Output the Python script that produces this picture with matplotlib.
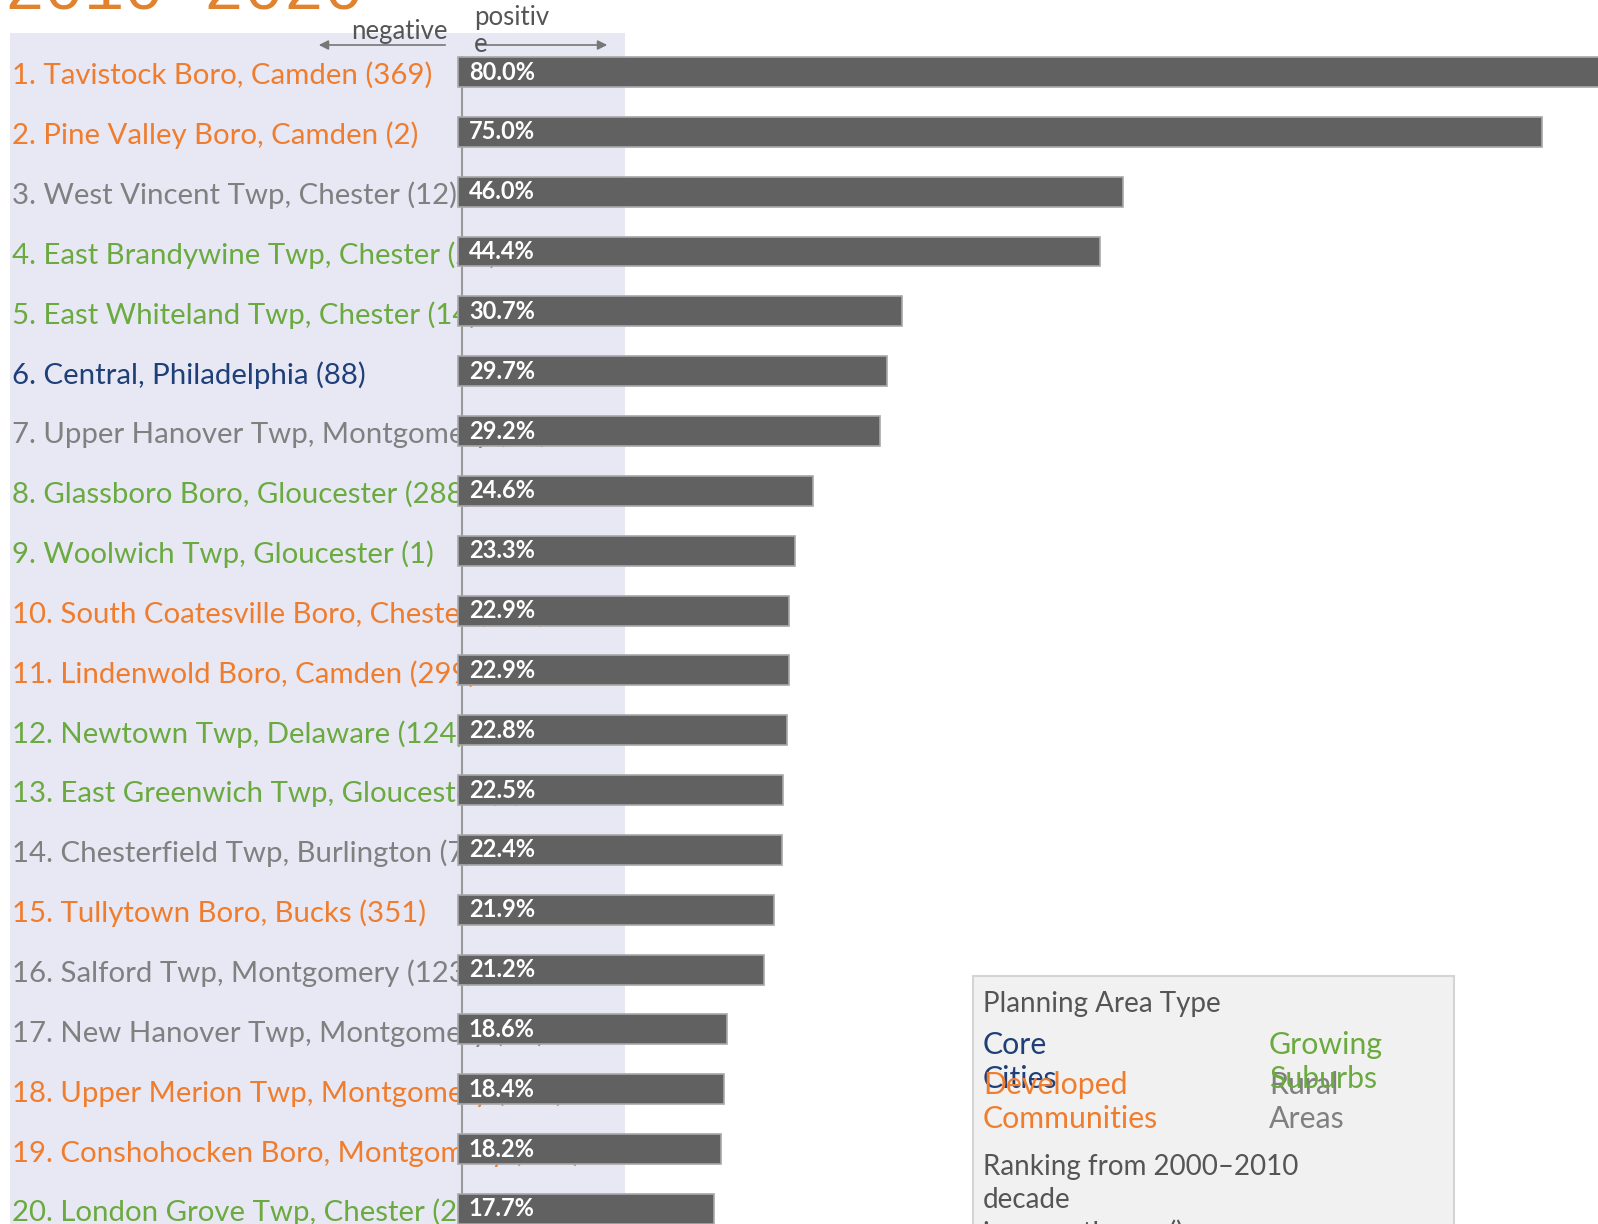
import matplotlib.pyplot as plt
from matplotlib.patches import Rectangle
from matplotlib.transforms import blended_transform_factory

plt.rcParams["font.family"] = ["Lato", "DejaVu Sans"]

# top 20 municipalities by growth, 2010-2020
labels = [
    "1. Tavistock Boro, Camden (369)",
    "2. Pine Valley Boro, Camden (2)",
    "3. West Vincent Twp, Chester (12)",
    "4. East Brandywine Twp, Chester (21)",
    "5. East Whiteland Twp, Chester (14)",
    "6. Central, Philadelphia (88)",
    "7. Upper Hanover Twp, Montgomery (30)",
    "8. Glassboro Boro, Gloucester (288)",
    "9. Woolwich Twp, Gloucester (1)",
    "10. South Coatesville Boro, Chester (340)",
    "11. Lindenwold Boro, Camden (299)",
    "12. Newtown Twp, Delaware (124)",
    "13. East Greenwich Twp, Gloucester (9)",
    "14. Chesterfield Twp, Burlington (7)",
    "15. Tullytown Boro, Bucks (351)",
    "16. Salford Twp, Montgomery (123)",
    "17. New Hanover Twp, Montgomery (41)",
    "18. Upper Merion Twp, Montgomery (210)",
    "19. Conshohocken Boro, Montgomery (333)",
    "20. London Grove Twp, Chester (24)",
]
growth = [80.0, 75.0, 46.0, 44.4, 30.7, 29.7, 29.2, 24.6, 23.3, 22.9,
          22.9, 22.8, 22.5, 22.4, 21.9, 21.2, 18.6, 18.4, 18.2, 17.7]
area_type = ["dev", "dev", "rural", "grow", "grow", "core", "rural", "grow", "grow", "dev",
             "dev", "grow", "grow", "rural", "dev", "rural", "rural", "dev", "dev", "grow"]

type_colors = {"core": "#1f3f78", "dev": "#f07d2e", "grow": "#6aaa3f", "rural": "#808080"}

W, H = 1598, 1224
fig = plt.figure(figsize=(W / 100, H / 100), dpi=100)

# pixel helpers for figure-level decorations
def fx(px):
    return px / W

def fy(py):
    return 1 - py / H

ax = fig.add_axes([0, 0, 1, 1])
ax.set_facecolor("none")
ax.axis("off")

# shaded panel behind the labels
ax.add_patch(Rectangle((fx(10), fy(1224)), fx(625) - fx(10), fy(33) - fy(1224),
                       transform=fig.transFigure, facecolor="#e7e8f4",
                       edgecolor="none", zorder=0))

# zero at 458 px, 14.45 px per percent; rows 59.84 px apart starting at 72 px
zero_px, px_per = 458, 14.45
row0, row_h = 72, 59.84
ax.set_xlim(-zero_px / px_per, (W - zero_px) / px_per)
ax.set_ylim((H - row0) / row_h, -row0 / row_h)

ypos = list(range(len(labels)))
lab_tr = blended_transform_factory(fig.transFigure, ax.transData)
for i, (lab, t) in enumerate(zip(labels, area_type)):
    ax.text(fx(12), i + 0.06, lab, transform=lab_tr, fontsize=21.2,
            color=type_colors[t], va="center", ha="left", zorder=1)

ax.barh(ypos, growth, height=0.5, left=0, color="#616161",
        edgecolor="#a8a8a8", linewidth=1.2, zorder=3)
for i, v in enumerate(growth):
    ax.text(0.75, i, f"{v:.1f}%", color="white", fontsize=17,
            fontweight="bold", va="center", ha="left", zorder=4)

ax.axvline(0.25, ymin=0, ymax=1 - 57 / H, color="#9a9a9a", linewidth=1.5, zorder=2)

# direction arrows
fig.text(fx(448), fy(32), "negative", ha="right", va="center", fontsize=18.5, color="#555555")
fig.text(fx(474), fy(17), "positiv", ha="left", va="center", fontsize=18.5, color="#555555")
fig.text(fx(474), fy(44), "e", ha="left", va="center", fontsize=18.5, color="#555555")
ax.annotate("", xy=(fx(316), fy(45)), xytext=(fx(448), fy(45)),
            xycoords=fig.transFigure, textcoords=fig.transFigure,
            arrowprops=dict(arrowstyle="-|>", color="#777777", lw=1.2, mutation_scale=14),
            zorder=2)
ax.annotate("", xy=(fx(610), fy(45)), xytext=(fx(474), fy(45)),
            xycoords=fig.transFigure, textcoords=fig.transFigure,
            arrowprops=dict(arrowstyle="-|>", color="#777777", lw=1.2, mutation_scale=14),
            zorder=2)

# title, mostly above the visible area
fig.text(fx(4), fy(10), "2010\u20132020", ha="left", va="baseline", fontsize=48,
         color="#e0822e", family="Liberation Mono")

# legend panel
fig.patches.append(Rectangle((fx(973), fy(1230)), fx(1454) - fx(973), fy(976) - fy(1230),
                             transform=fig.transFigure, facecolor="#f1f1f1",
                             edgecolor="#d4d4d4", linewidth=1.5, zorder=5))
head_kw = dict(ha="left", va="center", fontsize=20, zorder=6, color="#555555")
item_kw = dict(ha="left", va="center", fontsize=21.8, zorder=6)
fig.text(fx(983), fy(1004), "Planning Area Type", **head_kw)
fig.text(fx(983), fy(1045), "Core", color=type_colors["core"], **item_kw)
fig.text(fx(983), fy(1079), "Cities", color=type_colors["core"], **item_kw)
fig.text(fx(983), fy(1085), "Developed", color=type_colors["dev"], **item_kw)
fig.text(fx(983), fy(1119), "Communities", color=type_colors["dev"], **item_kw)
fig.text(fx(1269), fy(1085), "Rural", color=type_colors["rural"], **item_kw)
fig.text(fx(1269), fy(1119), "Areas", color=type_colors["rural"], **item_kw)
fig.text(fx(1269), fy(1045), "Growing", color=type_colors["grow"], **item_kw)
fig.text(fx(1269), fy(1079), "Suburbs", color=type_colors["grow"], **item_kw)
fig.text(fx(983), fy(1167), "Ranking from 2000\u20132010", **head_kw)
fig.text(fx(983), fy(1200), "decade", **head_kw)
fig.text(fx(983), fy(1233), "in parentheses ()", **head_kw)

fig.savefig("out.png", dpi=100)
